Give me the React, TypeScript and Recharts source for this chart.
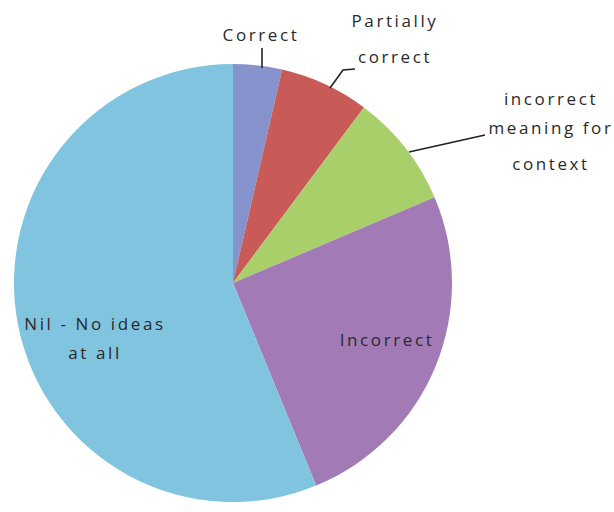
import React from "react";
import { PieChart, Pie, Cell } from "recharts";

const categories = [
  "Correct",
  "Partially correct",
  "Incorrect meaning for context",
  "Incorrect",
  "Nil - No ideas at all",
];
const values = [3.6, 6.6, 8.4, 25.2, 56.2];
const colors = ["#8592CB", "#C85A57", "#A8CF6A", "#A27BB6", "#80C4DF"];

// label layout (relative to pie centre): text lines, line offsets and leader lines
const labelLayout = [
  { lines: ["Correct"], x: 28, y: [-242], leader: [[29, -235], [29, -215]] },
  { lines: ["Partially", "correct"], x: 162, y: [-256, -220], leader: [[122, -214], [110, -213], [97, -195]] },
  {
    lines: ["incorrect", "meaning for", "context"],
    x: 318,
    y: [-178, -149, -113],
    leader: [[176, -131], [252, -148]],
  },
  { lines: ["Incorrect"], x: 154, y: [63], leader: null },
  { lines: ["Nil - No ideas", "at all"], x: -138, y: [47, 76], leader: null },
];

const data = categories.map((name, i) => ({ name, value: values[i] }));

const renderLabel = (props: any) => {
  const { cx, cy, index } = props;
  const L = labelLayout[index];
  return (
    <g key={"lbl" + index}>
      {L.leader && (
        <polyline
          points={L.leader.map((p: number[]) => `${cx + p[0]},${cy + p[1]}`).join(" ")}
          fill="none"
          stroke="#222"
          strokeWidth={1.6}
        />
      )}
      {L.lines.map((t: string, j: number) => (
        <text
          key={j}
          x={cx + L.x}
          y={cy + L.y[j]}
          textAnchor="middle"
          fill="#2a2a2a"
          fontFamily="'Open Sans', sans-serif"
          fontSize={17}
          letterSpacing={2.6}
        >
          {t}
        </text>
      ))}
    </g>
  );
};

export default function App() {
  return (
    <div style={{ position: "absolute", left: 0, top: 0, width: 614, height: 512, background: "#fff" }}>
      <PieChart width={614} height={512} margin={{ top: 0, right: 0, bottom: 0, left: 0 }}>
        <Pie
          data={data}
          dataKey="value"
          nameKey="name"
          cx={233}
          cy={283}
          outerRadius={219}
          startAngle={90}
          endAngle={-270}
          stroke="none"
          label={renderLabel}
          labelLine={false}
          isAnimationActive={false}
        >
          {data.map((d, i) => (
            <Cell key={d.name} fill={colors[i]} />
          ))}
        </Pie>
      </PieChart>
    </div>
  );
}
